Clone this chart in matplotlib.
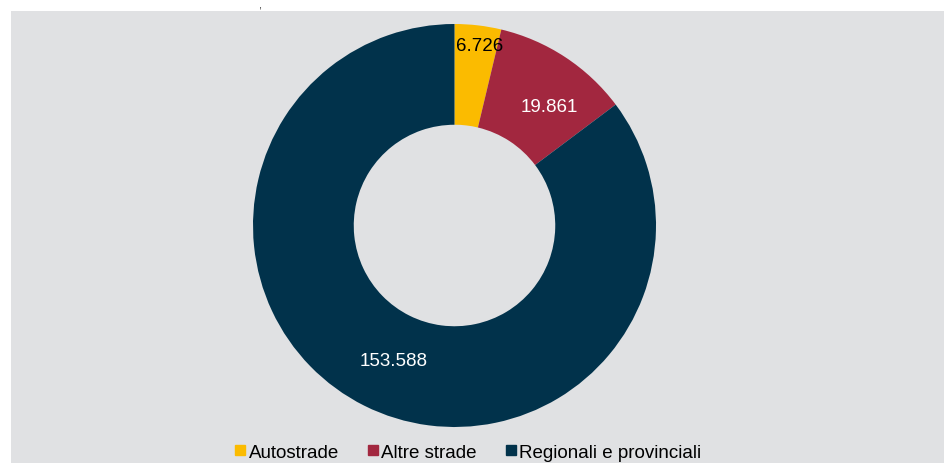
import numpy as np
import matplotlib
matplotlib.use("Agg")
import matplotlib.pyplot as plt
from matplotlib.patches import Rectangle
from matplotlib.lines import Line2D

plt.rcParams["font.family"] = ["Liberation Sans", "DejaVu Sans"]

# data
categories = ["Autostrade", "Altre strade", "Regionali e provinciali"]
values = [6.726, 19.861, 153.588]
value_labels = ["6.726", "19.861", "153.588"]
colors = ["#FBBB00", "#A2273F", "#01324B"]
label_colors = ["black", "white", "white"]
# label placement: fraction of radius, angle nudge in degrees
label_radius = [0.9, 0.755, 0.735]
label_shift = [-1.1, -5.5, 2.5]

panel_color = "#E0E1E3"

fig = plt.figure(figsize=(9.45, 4.64), dpi=100)
fig.patch.set_facecolor("white")

# grey panel behind the chart
fig.add_artist(Rectangle((11 / 945, 0), 1 - 11 / 945, (464 - 12) / 464,
                         transform=fig.transFigure, facecolor=panel_color,
                         edgecolor="none", zorder=0))

# cut-off fragment of the title above
fig.text(260 / 945, 1 - 1 / 464, ",", fontsize=8, color="#333333", ha="center", va="top")

ax = fig.add_axes([253 / 945, 36 / 464, 403 / 945, 403 / 464])
ax.set_facecolor("none")

wedges, _ = ax.pie(values, colors=colors, startangle=90, counterclock=False,
                   wedgeprops=dict(width=0.5, edgecolor="none"),
                   radius=1.0)
ax.set_xlim(-1, 1)
ax.set_ylim(-1, 1)
ax.set_aspect("equal")
ax.axis("off")

for w, txt, c, r, s in zip(wedges, value_labels, label_colors, label_radius, label_shift):
    mid = np.deg2rad((w.theta1 + w.theta2) / 2 + s)
    ax.text(r * np.cos(mid), r * np.sin(mid), txt, color=c, fontsize=13.5,
            ha="center", va="center")

handles = [Line2D([], [], marker="s", linestyle="none", markersize=6.5,
                  markerfacecolor=c, markeredgecolor=c) for c in colors]
fig.legend(handles, categories, loc="center", bbox_to_anchor=(468 / 945, 1 - 453 / 464),
           ncol=3, frameon=False, fontsize=13.5, handlelength=0.6, handletextpad=0.15,
           columnspacing=1.5, borderpad=0)

fig.savefig("out.png", dpi=100, facecolor=fig.get_facecolor())
